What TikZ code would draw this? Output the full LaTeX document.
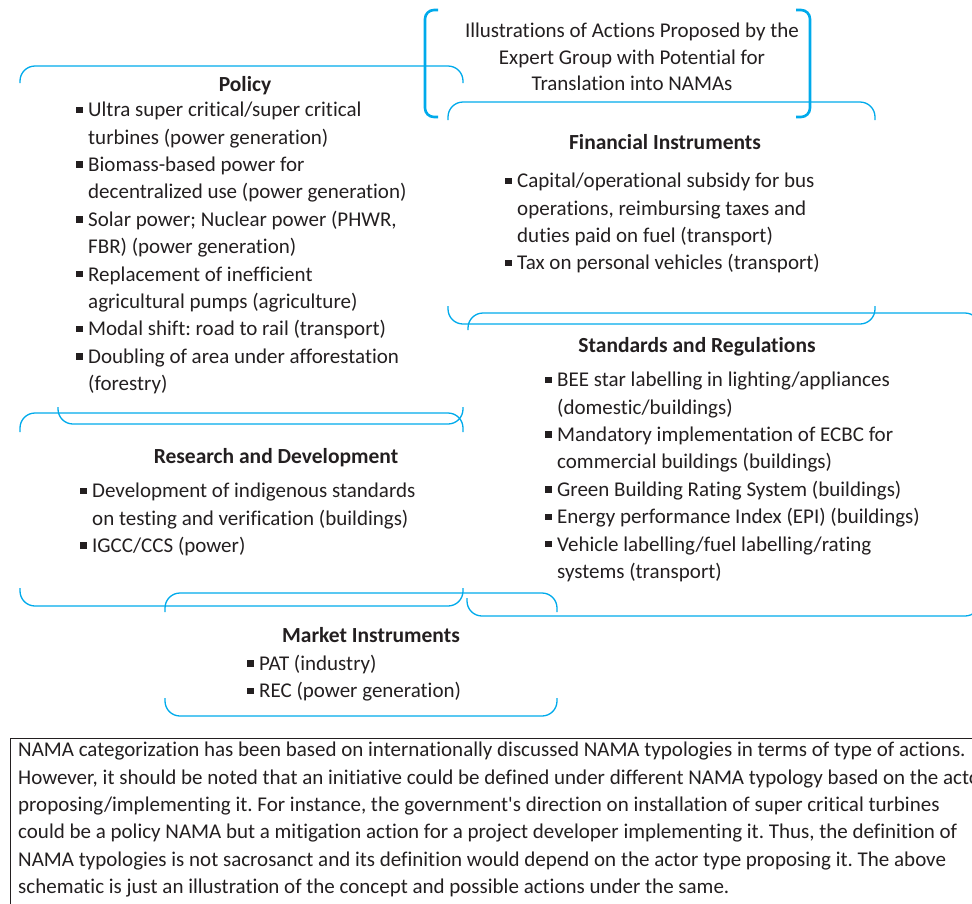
\documentclass[tikz,border=0pt]{standalone}
\usepackage{fontspec}
\setmainfont{Carlito}[Ligatures=NoCommon]
\definecolor{namablue}{RGB}{0,170,235}
\definecolor{inktext}{RGB}{35,31,32}
\tikzset{
  brk/.style={draw=namablue, line width=1.3pt, rounded corners=15pt},
  brace/.style={draw=namablue, line width=2.6pt, rounded corners=9pt},
  head/.style={font=\bfseries\fontsize{21.5}{24}\selectfont, text=inktext, inner sep=0pt},
  items/.style={align=left, inner sep=0pt, anchor=north west, text=inktext,
    font=\fontsize{21}{27.4}\selectfont},
}
\newcommand{\blt}{\makebox[12pt][l]{\rule[0.18em]{6.5pt}{6.5pt}}}
\newcommand{\ind}{\hspace*{12pt}}
\frenchspacing

\begin{document}
\begin{tikzpicture}[x=1pt,y=-1pt]
\useasboundingbox (0,0) rectangle (972,903);
\clip (0,0) rectangle (972,903);
%\draw[step=50,gray,very thin] (0,0) grid (972,903); %background grid

% title braces
\draw[brace] (438,10) -- (425,10) -- (425,117) -- (438,117);
\draw[brace] (796,10) -- (810,10) -- (810,117) -- (796,117);
\node[align=center, text=inktext, font=\fontsize{21}{26.5}\selectfont] (title) at (632,57)
  {Illustrations of Actions Proposed by the\\Expert Group with Potential for\\Translation into NAMAs};

% policy
\draw[brk] (20,83) -- (20,66) -- (463,66) -- (463,83);
\draw[brk] (58,407) -- (58,424) -- (463,424) -- (463,407);
\node[head] (policy) at (245,86) {Policy};
\node[items] (policylist) at (76,102) {\blt Ultra super critical/super critical\\
\ind turbines (power generation)\\
\blt Biomass-based power for\\
\ind decentralized use (power generation)\\
\blt Solar power; Nuclear power (PHWR,\\
\ind FBR) (power generation)\\
\blt Replacement of inefficient\\
\ind agricultural pumps (agriculture)\\
\blt Modal shift: road to rail (transport)\\
\blt Doubling of area under afforestation\\
\ind (forestry)};

% financial instruments
\draw[brk] (448,120) -- (448,102) -- (875,102) -- (875,120);
\draw[brk] (448,306) -- (448,324) -- (875,324) -- (875,306);
\node[head] (finance) at (665,142) {Financial Instruments};
\node[items] (financelist) at (505,173) {\blt Capital/operational subsidy for bus\\
\ind operations, reimbursing taxes and\\
\ind duties paid on fuel (transport)\\
\blt Tax on personal vehicles (transport)};

% standards and regulations
\draw[brk] (468,330) -- (468,313) -- (980,313) -- (980,330);
\draw[brk] (467,598) -- (467,616) -- (980,616) -- (980,598);
\node[head] (standards) at (697,347) {Standards and Regulations};
\node[items] (standardslist) at (545,372) {\blt BEE star labelling in lighting/appliances\\
\ind (domestic/buildings)\\
\blt Mandatory implementation of ECBC for\\
\ind commercial buildings (buildings)\\
\blt Green Building Rating System (buildings)\\
\blt Energy performance Index (EPI) (buildings)\\
\blt Vehicle labelling/fuel labelling/rating\\
\ind systems (transport)};

% research and development
\draw[brk] (20,432) -- (20,413) -- (463,413) -- (463,432);
\draw[brk] (20,588) -- (20,606) -- (463,606) -- (463,588);
\node[head] (research) at (276,458) {Research and Development};
\node[items] (researchlist) at (80,483) {\blt Development of indigenous standards\\
\ind on testing and verification (buildings)\\
\blt IGCC/CCS (power)};

% market instruments
\draw[brk] (165,612) -- (165,593) -- (557,593) -- (557,612);
\draw[brk] (165,698) -- (165,716) -- (557,716) -- (557,698);
\node[head] (market) at (371,635) {Market Instruments};
\node[items] (marketlist) at (247,655) {\blt PAT (industry)\\
\blt REC (power generation)};

% note box
\draw[inktext, line width=0.8pt] (10,990) -- (10,738) -- (1000,738);
\node[items] (note) at (18,742) {NAMA categorization has been based on internationally discussed NAMA typologies in terms of type of actions.\\
However, it should be noted that an initiative could be defined under different NAMA typology based on the actor\\
proposing/implementing it. For instance, the government\textquotesingle s direction on installation of super critical turbines\\
could be a policy NAMA but a mitigation action for a project developer implementing it. Thus, the definition of\\
NAMA typologies is not sacrosanct and its definition would depend on the actor type proposing it. The above\\
schematic is just an illustration of the concept and possible actions under the same.};
\end{tikzpicture}
\end{document}
